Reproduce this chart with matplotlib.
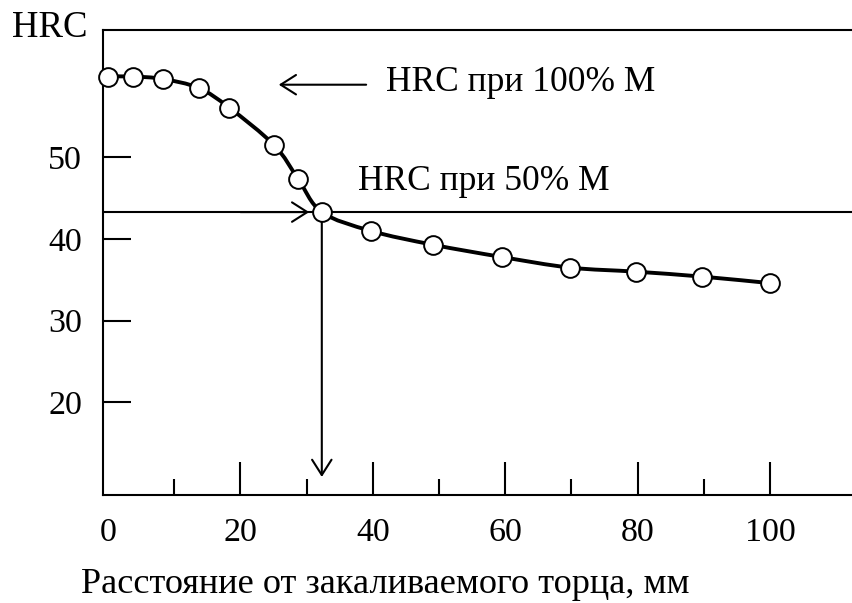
import numpy as np
import matplotlib
matplotlib.use("Agg")
import matplotlib.pyplot as plt
from matplotlib.path import Path
from matplotlib.patches import PathPatch

plt.rcParams['font.family'] = ['Liberation Serif', 'DejaVu Serif']

# ---- data ----
dist = [0, 3.8, 8.3, 13.7, 18.3, 25.1, 28.7, 32.3, 39.7, 49.1, 59.5, 69.8, 79.8, 89.7, 100]
hrc = [59.9, 59.9, 59.6, 58.5, 56.1, 51.5, 47.4, 43.3, 41.0, 39.3, 37.8, 36.5, 36.0, 35.4, 34.6]
x_major = [0, 20, 40, 60, 80, 100]
x_minor = [10, 30, 50, 70, 90]
y_ticks = [20, 30, 40, 50]
hrc_50 = 43.3          # HRC at 50% martensite
d_50 = 32.3            # distance where it is reached
label_100 = "HRC при 100% М"
label_50 = "HRC при 50% М"
xlabel = "Расстояние от закаливаемого торца, мм"
ylabel = "HRC"

W, H = 852, 603
fig = plt.figure(figsize=(W / 100, H / 100), dpi=100)
ax = fig.add_axes([103 / W, (H - 495) / H, (W - 103) / W, (495 - 30) / H])
ax.set_xlim(-0.755, 112.4)
ax.set_ylim(8.65, 65.6)

for s in ['left', 'top', 'bottom']:
    ax.spines[s].set_linewidth(1.5)
ax.spines['right'].set_visible(False)

ax.set_xticks(x_major)
ax.set_xticklabels([str(v) for v in x_major])
ax.set_xticks(x_minor, minor=True)
ax.tick_params(axis='x', which='major', direction='in', length=24, width=1.5,
               labelsize=24.5, pad=16)
ax.tick_params(axis='x', which='minor', direction='in', length=11.5, width=1.5)
ax.xaxis.get_major_ticks()[0].tick1line.set_visible(False)

ax.set_yticks(y_ticks)
ax.set_yticklabels([str(v) for v in y_ticks])
ax.tick_params(axis='y', which='major', direction='in', length=20, width=1.5,
               labelsize=24.5, pad=15)

# smooth curve through the points (Catmull-Rom -> cubic Bezier)
P = np.column_stack([dist, hrc])
verts = [tuple(P[0])]
codes = [Path.MOVETO]
n = len(P)
for i in range(n - 1):
    p0 = P[i - 1] if i > 0 else P[i]
    p1 = P[i]
    p2 = P[i + 1]
    p3 = P[i + 2] if i + 2 < n else P[i + 1]
    c1 = p1 + (p2 - p0) / 6.0
    c2 = p2 - (p3 - p1) / 6.0
    verts += [tuple(c1), tuple(c2), tuple(p2)]
    codes += [Path.CURVE4] * 3
ax.add_patch(PathPatch(Path(verts, codes), fill=False, lw=2.8, color='black',
                       zorder=3, clip_on=False))

# 50% martensite lines
ax.axhline(hrc_50, color='black', lw=1.5, zorder=2)
arrow = dict(arrowstyle='->,head_length=0.55,head_width=0.35', lw=1.5,
             color='black', mutation_scale=20, shrinkA=0, shrinkB=0)
ax.annotate('', xy=(d_50, 10.86), xytext=(d_50, hrc_50), arrowprops=arrow, zorder=2)
ax.annotate('', xy=(30.4, hrc_50), xytext=(20, hrc_50), arrowprops=arrow, zorder=2)
# arrow to 100% label
ax.annotate('', xy=(25.8, 58.9), xytext=(39.0, 58.9), arrowprops=arrow, zorder=2)

ax.plot(dist, hrc, linestyle='none', marker='o', markersize=13.5,
        markerfacecolor='white', markeredgecolor='black', markeredgewidth=1.4,
        zorder=4, clip_on=False)

ax.text(42.0, 58.16, label_100, fontsize=25.5, ha='left', va='baseline')
ax.text(37.8, 46.0, label_50, fontsize=25.5, ha='left', va='baseline')

fig.text(50 / W, 1 - 28 / H, ylabel, fontsize=26.5, ha='center', va='center')
fig.text(385 / W, 1 - 593 / H, xlabel, fontsize=26.1, ha='center', va='baseline')

fig.savefig('out.png', dpi=100)
